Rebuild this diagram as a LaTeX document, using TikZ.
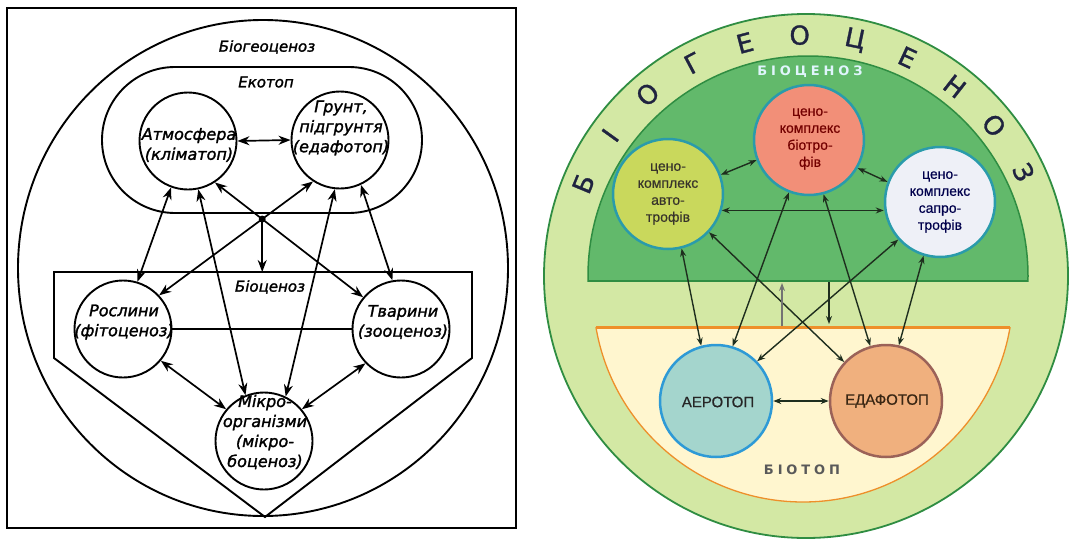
\documentclass[tikz,border=0pt]{standalone}
\usepackage{fontspec}
\usetikzlibrary{arrows.meta}

\newfontfamily\schemefont{DejaVu Sans}[FakeBold=1.6]
\newfontfamily\rimfont{DejaVu Sans}[FakeBold=1.2]
\newfontfamily\cellfont{Liberation Sans}[FakeBold=0.6]
\newfontfamily\trackfont{DejaVu Sans}[LetterSpace=30]

\definecolor{ringgreen}{HTML}{D3E8A4}
\definecolor{bioc}{HTML}{62B96B}
\definecolor{edgegreen}{HTML}{2F8D42}
\definecolor{biotope}{HTML}{FFF6CF}
\definecolor{biotopeline}{HTML}{EE8F2A}
\definecolor{autofill}{HTML}{C9D85C}
\definecolor{biotfill}{HTML}{F28F78}
\definecolor{saprfill}{HTML}{EEF0F7}
\definecolor{aerofill}{HTML}{A4D5CD}
\definecolor{edaffill}{HTML}{F0B07E}
\definecolor{cellrim}{HTML}{2A9BAB}
\definecolor{aerorim}{HTML}{2E9AD6}
\definecolor{edafrim}{HTML}{9B6258}
\definecolor{linkcol}{HTML}{1E2E1E}
\definecolor{lettercol}{HTML}{1F2340}

\begin{document}
\begin{tikzpicture}[x=1pt,y=-1pt,
  boxline/.style={line width=1.9pt},
  lcirc/.style={circle,draw,line width=1.9pt,minimum size=97pt,inner sep=0pt},
  ltext/.style={align=center,inner sep=0pt,font=\schemefont\itshape\fontsize{16}{20}\selectfont},
  zlabel/.style={inner sep=0pt,font=\schemefont\itshape\fontsize{15}{18}\selectfont},
  dbl/.style={line width=1.7pt,{Stealth[length=12pt,width=9pt]}-{Stealth[length=12pt,width=9pt]}},
  sgl/.style={line width=1.7pt,-{Stealth[length=12pt,width=9pt]}},
  rcirc/.style={circle,draw=cellrim,line width=2.5pt,minimum size=110pt,inner sep=0pt},
  rtext/.style={align=center,inner sep=0pt,font=\cellfont\fontsize{14}{17}\selectfont},
  rdbl/.style={linkcol,line width=1.4pt,{Stealth[length=8pt,width=6pt]}-{Stealth[length=8pt,width=6pt]}},
  rsgl/.style={linkcol,line width=1.4pt,-{Stealth[length=8pt,width=6pt]}},
  rletter/.style={lettercol,inner sep=0pt,font=\rimfont\fontsize{26}{26}\selectfont},
  tracked/.style={inner sep=0pt,font=\trackfont\bfseries\fontsize{13}{13}\selectfont},
]
\useasboundingbox (0,0) rectangle (1074,541);
\fill[white] (0,0) rectangle (1074,541);

% ================= black-and-white scheme =================
\draw[boxline] (7,8) rectangle (516,528);
\draw[boxline] (263,268) ellipse [x radius=245pt, y radius=248pt];
\draw[boxline,rounded corners=73pt] (102,67) rectangle (422,213);
\draw[boxline] (54,272) -- (472,272) -- (472,358) -- (265,517) -- (54,358) -- cycle;

\node[zlabel] (lbgc) at (267,47) {Біогеоценоз};
\node[zlabel] (leco) at (266,82) {Екотоп};
\node[zlabel] (lbio) at (270,287) {Біоценоз};

\node[lcirc] (atm) at (188,141) {};
\node[lcirc] (gru) at (340,140) {};
\node[lcirc] (ros) at (123,329) {};
\node[lcirc] (tva) at (401,329) {};
\node[lcirc] (mic) at (264,441) {};

\node[ltext] (atmt) at (189,145) {Атмосфера\\(кліматоп)};
\node[ltext] (grut) at (341,128) {Грунт,\\підгрунтя\\(едафотоп)};
\node[ltext] (rost) at (124,322) {Рослини\\(фітоценоз)};
\node[ltext] (tvat) at (403,322) {Тварини\\(зооценоз)};
\node[ltext] (mict) at (265,432) {Мікро-\\організми\\(мікро-\\боценоз)};

% links
\draw[dbl] (atm.east) -- (gru.west);
\draw[boxline] (ros.east) -- (tva.west);
\coordinate (a1) at (atm.-57);
\coordinate (a2) at (tva.140);
\coordinate (g1) at (gru.-123);
\coordinate (g2) at (ros.43);
\draw[dbl] (a1) -- (a2);
\draw[dbl] (g1) -- (g2);
\node[circle,fill,inner sep=0pt,minimum size=7pt] (hub) at (intersection of a1--a2 and g1--g2) {};
\coordinate (bioctop) at (263,272);
\draw[sgl] (hub.center) -- (hub |- bioctop);
\draw[dbl] (atm.-110) -- (ros.73);
\draw[dbl] (atm.-78) -- (mic.112);
\draw[dbl] (gru.-96) -- (mic.64);
\draw[dbl] (gru.-65) -- (tva.100);
\draw[dbl] (ros.-40) -- (mic.140);
\draw[dbl] (tva.-136) -- (mic.40);

% ================= coloured scheme =================
\draw[edgegreen,line width=1.8pt,fill=ringgreen] (806,276) circle[radius=262pt];
\begin{scope}
  \clip (540,0) rectangle (1074,281);
  \fill[bioc] (808,276) circle[radius=220pt];
  \draw[edgegreen,line width=1.5pt] (808,276) circle[radius=220pt];
\end{scope}
\draw[edgegreen,line width=1.5pt] (588,281) -- (1028,281);
\begin{scope}
  \clip (540,327) rectangle (1074,541);
  \fill[biotope] (803,292) circle[radius=210pt];
  \draw[biotopeline,line width=1.3pt] (803,292) circle[radius=210pt];
\end{scope}
\draw[biotopeline,line width=3pt] (596,327) -- (1010,327);

% word around the rim
\begin{scope}[shift={(806,276)},y=1pt]
  \foreach \l [count=\i from 0] in {Б,І,О,Г,Е,О,Ц,Е,Н,О,З}{
    \pgfmathsetmacro\ang{157.5-13.2*\i}
    \node[rletter,rotate=\ang-90] (rim\i) at (\ang:241) {\l};
  }
\end{scope}

\node[tracked,text=white!88!cyan] (bioclabel) at (810,72) {БІОЦЕНОЗ};
\node[tracked,text=black!65] (biotlabel) at (802,470) {БІОТОП};

\node[rcirc,fill=autofill] (autot) at (668,194) {};
\node[rcirc,fill=biotfill] (biot) at (809,140) {};
\node[rcirc,fill=saprfill] (sapr) at (940,202) {};
\node[rcirc,fill=aerofill,draw=aerorim,minimum size=112pt] (aero) at (716,401) {};
\node[rcirc,fill=edaffill,draw=edafrim,minimum size=112pt] (edaf) at (886,401) {};

\node[rtext,text=black!80!olive] (autotx) at (668,194) {цено-\\комплекс\\авто-\\трофів};
\node[rtext,text=red!45!black] (biotx) at (810,139) {цено-\\комплекс\\біотро-\\фів};
\node[rtext,text=black!70!blue] (saprtx) at (940,202) {цено-\\комплекс\\сапро-\\трофів};
\node[rtext,font=\cellfont\fontsize{15}{18}\selectfont,text=black!85] (aerotx) at (718,402) {АЕРОТОП};
\node[rtext,font=\cellfont\fontsize{15}{18}\selectfont,text=black!70!brown] (edaftx) at (887,401) {ЕДАФОТОП};

\draw[rdbl] (autot.20) -- (biot.201);
\draw[rdbl] (biot.-30) -- (sapr.159);
\draw[rdbl] (autot.-17) -- (autot.-17 -| sapr.west);
\draw[rdbl] (autot.-76) -- (aero.105);
\draw[rdbl] (biot.-111) -- (aero.73);
\draw[rdbl] (biot.-75) -- (edaf.106);
\draw[rdbl] (sapr.-107) -- (edaf.77);
\draw[rdbl] (autot.-43) -- (edaf.137);
\draw[rdbl] (sapr.-138) -- (aero.44);
\draw[rdbl] (aero.east) -- (edaf.west);
\coordinate (riseA) at (782,326);
\coordinate (riseB) at (782,283);
\draw[rsgl,line width=2.4pt,black!55] (riseA) -- (riseB);
\coordinate (dropA) at (829,282);
\coordinate (dropB) at (829,324);
\draw[rsgl] (dropA) -- (dropB);
\end{tikzpicture}
\end{document}
